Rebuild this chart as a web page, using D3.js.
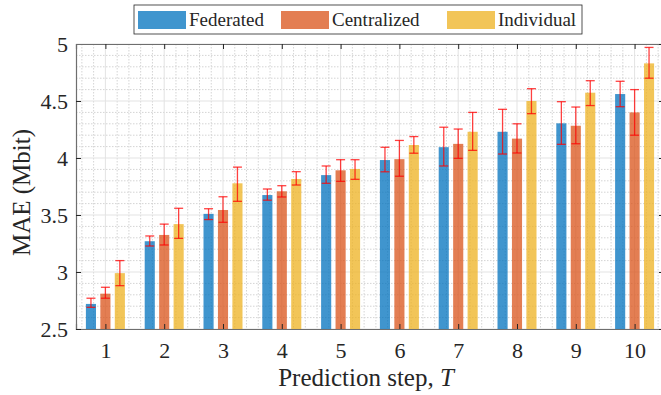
<!DOCTYPE html>
<html>
<head>
<meta charset="utf-8">
<script src="https://cdn.jsdelivr.net/npm/d3@7"></script>
<style>
  body { margin: 0; background: #fff; }
  svg text { font-family: 'Liberation Serif', 'DejaVu Serif', serif; fill: #262626; }
</style>
</head>
<body>
<svg id="chart" width="661" height="395"></svg>
<script>
// prediction steps
var steps = [1, 2, 3, 4, 5, 6, 7, 8, 9, 10]
var seriesNames = ['Federated', 'Centralized', 'Individual']

// MAE means
var federated = [2.72, 3.27, 3.51, 3.675, 3.85, 3.982, 4.095, 4.23, 4.304, 4.561]
var centralized = [2.81, 3.325, 3.544, 3.708, 3.892, 3.99, 4.124, 4.17, 4.283, 4.40]
var individual = [2.99, 3.42, 3.778, 3.816, 3.904, 4.114, 4.23, 4.50, 4.573, 4.83]

// error bar ends (lower / upper)
var federatedLo = [2.69, 3.228, 3.46, 3.63, 3.778, 3.879, 3.93, 4.035, 4.12, 4.45]
var federatedHi = [2.77, 3.316, 3.555, 3.728, 3.93, 4.094, 4.27, 4.427, 4.494, 4.673]
var centralizedLo = [2.77, 3.237, 3.436, 3.658, 3.795, 3.84, 3.997, 4.044, 4.125, 4.20]
var centralizedHi = [2.866, 3.42, 3.66, 3.757, 3.985, 4.154, 4.254, 4.30, 4.447, 4.60]
var individualLo = [2.88, 3.295, 3.62, 3.763, 3.813, 4.042, 4.067, 4.389, 4.46, 4.70]
var individualHi = [3.10, 3.559, 3.92, 3.88, 3.985, 4.188, 4.40, 4.608, 4.678, 4.97]

var yTicks = [2.5, 3, 3.5, 4, 4.5, 5]

;(function () {
  var svg = d3.select('#chart')
  var margin = {top: 44, left: 76, bottom: 66, right: -3}
  var width = 661 - margin.left - margin.right
  var height = 395 - margin.top - margin.bottom

  var colors = ['#0072bd', '#d95319', '#edb120']
  var values = [federated, centralized, individual]
  var lows = [federatedLo, centralizedLo, individualLo]
  var highs = [federatedHi, centralizedHi, individualHi]

  var rows = []
  seriesNames.forEach(function (name, s) {
    steps.forEach(function (t, i) {
      rows.push({s: s, t: t, v: values[s][i], lo: lows[s][i], hi: highs[s][i]})
    })
  })

  var x = d3.scaleLinear().domain([0.5, 10.5]).range([0, width])
  var y = d3.scaleLinear().domain([2.5, 5]).range([height, 0])
  var offset = d3.scaleBand().domain([0, 1, 2]).range([-19.5, 19.5]).paddingInner(0.3)

  var g = svg.append('g')
      .attr('transform', `translate(${margin.left},${margin.top})`)

  /*
      --------------------------------------
      Grid
  */
  var minorX = d3.range(0.6, 10.5, 0.2).filter(d => Math.abs(d - Math.round(d)) > 0.01)
  var minorY = d3.range(2.6, 5, 0.1).filter(d => Math.abs(d * 2 - Math.round(d * 2)) > 0.01)

  g.append('g').selectAll('line').data(minorX).join('line')
      .attr('x1', d => x(d)).attr('x2', d => x(d))
      .attr('y1', 0).attr('y2', height)
      .style('stroke', '#d4d4d4').style('stroke-dasharray', '1.5,1.5')
  g.append('g').selectAll('line').data(minorY).join('line')
      .attr('y1', d => y(d)).attr('y2', d => y(d))
      .attr('x1', 0).attr('x2', width)
      .style('stroke', '#d4d4d4').style('stroke-dasharray', '1.5,1.5')
  g.append('g').selectAll('line').data(steps).join('line')
      .attr('x1', d => x(d)).attr('x2', d => x(d))
      .attr('y1', 0).attr('y2', height)
      .style('stroke', '#e3e3e3')
  g.append('g').selectAll('line').data(yTicks).join('line')
      .attr('y1', d => y(d)).attr('y2', d => y(d))
      .attr('x1', 0).attr('x2', width)
      .style('stroke', '#e3e3e3')

  /*
      --------------------------------------
      Bars
  */
  g.append('g').selectAll('rect').data(rows).join('rect')
      .attr('x', d => x(d.t) + offset(d.s))
      .attr('width', offset.bandwidth())
      .attr('y', d => y(d.v))
      .attr('height', d => height - y(d.v))
      .style('fill', d => colors[d.s])
      .style('fill-opacity', 0.75)

  /*
      --------------------------------------
      Error bars
  */
  var eb = g.append('g').selectAll('g').data(rows).join('g')
      .attr('transform', d => `translate(${x(d.t) + offset(d.s) + offset.bandwidth() / 2},0)`)
      .style('stroke', '#ff0000')
      .style('stroke-opacity', 0.75)
      .style('stroke-width', 1.3)
  eb.append('line')
      .attr('y1', d => y(d.lo)).attr('y2', d => y(d.hi))
  eb.append('line')
      .attr('x1', -4.5).attr('x2', 4.5)
      .attr('y1', d => y(d.lo)).attr('y2', d => y(d.lo))
  eb.append('line')
      .attr('x1', -4.5).attr('x2', 4.5)
      .attr('y1', d => y(d.hi)).attr('y2', d => y(d.hi))

  /*
      --------------------------------------
      Axes
  */
  var xAxis = g.append('g')
      .attr('transform', `translate(0,${height})`)
      .call(d3.axisBottom(x).tickValues(steps).tickSize(-5).tickPadding(13).tickFormat(d3.format('d')))
  var yAxis = g.append('g')
      .call(d3.axisLeft(y).tickValues(yTicks).tickSize(-5).tickPadding(8).tickFormat(d => d))
  g.append('g')
      .call(d3.axisTop(x).tickValues(steps).tickSize(-5).tickFormat(''))
  g.append('g')
      .attr('transform', `translate(${width},0)`)
      .call(d3.axisRight(y).tickValues(yTicks).tickSize(-5).tickFormat(''))

  g.selectAll('.domain').style('stroke', '#6e6e6e').style('stroke-width', 1.2)
  g.selectAll('.tick line').style('stroke', '#262626')
  xAxis.selectAll('text').style('font-size', '22px')
  yAxis.selectAll('text').style('font-size', '22px')
  g.selectAll('.tick text').style('fill', '#262626').style('font-family', "'Liberation Serif', serif")

  /*
      --------------------------------------
      Axis labels
  */
  svg.append('text')
      .attr('x', 366).attr('y', 386)
      .style('text-anchor', 'middle')
      .style('font-size', '25px')
      .html('Prediction step, <tspan font-style="italic">T</tspan>')

  svg.append('text')
      .attr('transform', `translate(30,${margin.top + height / 2 + 6}) rotate(-90)`)
      .style('text-anchor', 'middle')
      .style('font-size', '25px')
      .text('MAE (Mbit)')

  /*
      --------------------------------------
      Legend
  */
  var legend = svg.append('g').attr('transform', 'translate(134,5)')
  legend.append('rect')
      .attr('width', 448).attr('height', 29)
      .style('fill', '#fff').style('stroke', '#262626').style('stroke-width', 0.8)

  var legendX = [4, 147, 313]
  var item = legend.selectAll('.item').data(seriesNames).join('g')
      .attr('transform', (d, i) => `translate(${legendX[i]},6)`)
  item.append('rect')
      .attr('width', 48).attr('height', 18)
      .style('fill', (d, i) => colors[i]).style('fill-opacity', 0.75)
  item.append('text')
      .attr('x', 51).attr('y', 15)
      .style('font-size', '19px')
      .text(d => d)
})()
</script>
</body>
</html>
